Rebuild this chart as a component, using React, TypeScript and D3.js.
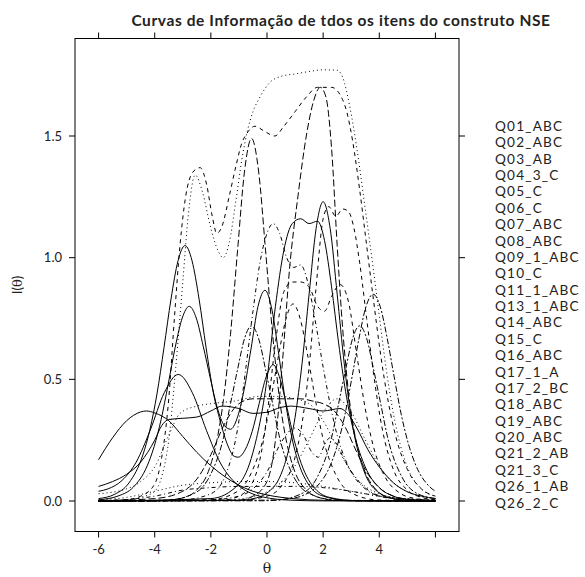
import React from "react";
import * as d3 from "d3";

type Pt = [number, number];

const itemNames = [
  "Q01_ABC", "Q02_ABC", "Q03_AB", "Q04_3_C", "Q05_C", "Q06_C", "Q07_ABC", "Q08_ABC",
  "Q09_1_ABC", "Q10_C", "Q11_1_ABC", "Q13_1_ABC", "Q14_ABC", "Q15_C", "Q16_ABC",
  "Q17_1_A", "Q17_2_BC", "Q18_ABC", "Q19_ABC", "Q20_ABC", "Q21_2_AB", "Q21_3_C",
  "Q26_1_AB", "Q26_2_C",
];

const xTicks = [-6, -4, -2, 0, 2, 4, 6];
const xTickLabels = ["-6", "-4", "-2", "0", "2", "4", ""];
const yTicks = [0, 0.5, 1.0, 1.5];
const yTickLabels = ["0.0", "0.5", "1.0", "1.5"];

const q01: Pt[] = [[-6,0.17],[-5.5,0.26],[-5,0.33],[-4.5,0.366],[-4.3,0.37],[-4,0.362],[-3.5,0.33],[-3,0.265],[-2.5,0.2],[-2,0.145],[-1.5,0.1],[-1,0.065],[-0.5,0.04],[0,0.025],[1,0.009],[2,0.003],[4,0.0004],[6,0]];
const q02: Pt[] = [[-6,0.002],[-5,0.006],[-4.5,0.02],[-4,0.07],[-3.75,0.18],[-3.5,0.42],[-3.3,0.75],[-3.1,1.05],[-2.9,1.25],[-2.65,1.35],[-2.38,1.37],[-2.15,1.3],[-1.95,1.17],[-1.79,1.1],[-1.6,1.13],[-1.35,1.25],[-1.1,1.38],[-0.9,1.47],[-0.72,1.51],[-0.43,1.54],[-0.1,1.52],[0.28,1.5],[0.6,1.54],[1,1.6],[1.4,1.66],[1.8,1.7],[2.3,1.7],[2.6,1.67],[2.84,1.6],[3.05,1.48],[3.3,1.28],[3.55,1.05],[3.8,0.82],[4.05,0.6],[4.3,0.42],[4.6,0.26],[5,0.13],[5.5,0.05],[6,0.02]];
const q03: Pt[] = [[-6,0.001],[-5,0.005],[-4.5,0.015],[-4,0.04],[-3.75,0.1],[-3.5,0.25],[-3.25,0.55],[-3,0.9],[-2.8,1.18],[-2.56,1.34],[-2.3,1.27],[-2,1.12],[-1.75,1.03],[-1.56,1.0],[-1.35,1.06],[-1.1,1.24],[-0.9,1.4],[-0.7,1.52],[-0.5,1.6],[-0.25,1.66],[0.1,1.72],[0.5,1.745],[1,1.755],[1.5,1.765],[2,1.772],[2.5,1.77],[2.7,1.74],[2.95,1.62],[3.2,1.45],[3.5,1.2],[3.78,0.96],[4,0.76],[4.25,0.54],[4.5,0.36],[4.75,0.23],[5,0.14],[5.5,0.05],[6,0.02]];
const q04: Pt[] = [[-6,0],[-3,0.005],[-2,0.03],[-1.5,0.1],[-1,0.33],[-0.75,0.55],[-0.5,0.78],[-0.25,0.98],[0,1.1],[0.22,1.14],[0.45,1.1],[0.7,1.0],[0.95,0.96],[1.2,0.97],[1.45,0.9],[1.75,0.72],[2,0.55],[2.5,0.27],[3,0.12],[3.5,0.05],[4,0.02],[5,0.004],[6,0.001]];
const q05: Pt[] = [[-6,0],[-4.55,0.0005],[-3.55,0.003],[-3.05,0.011],[-2.55,0.04],[-2.05,0.134],[-1.8,0.241],[-1.55,0.417],[-1.3,0.685],[-1.05,1.028],[-0.8,1.356],[-0.55,1.49],[-0.3,1.356],[-0.05,1.028],[0.2,0.685],[0.45,0.417],[0.7,0.241],[0.95,0.134],[1.45,0.04],[1.95,0.011],[2.45,0.003],[3.5,0.0004],[6,0]];
const q06: Pt[] = [[-6,0],[-0.22,0.001],[0.78,0.0085],[1.28,0.023],[1.78,0.06],[2.28,0.153],[2.53,0.238],[2.78,0.357],[3.03,0.51],[3.28,0.67],[3.53,0.8],[3.78,0.85],[4.03,0.8],[4.28,0.67],[4.53,0.51],[4.78,0.357],[5.03,0.238],[5.28,0.153],[5.78,0.06],[6,0.04]];
const q07: Pt[] = [[-6,0.06],[-5.5,0.08],[-5,0.11],[-4.5,0.16],[-4,0.25],[-3.75,0.31],[-3.5,0.335],[-3,0.34],[-2.5,0.345],[-2,0.37],[-1.6,0.39],[-1,0.38],[-0.5,0.36],[0,0.365],[0.5,0.385],[0.85,0.39],[1.5,0.38],[2,0.37],[2.6,0.38],[2.9,0.355],[3.2,0.3],[3.6,0.21],[4,0.14],[4.5,0.075],[5,0.038],[5.5,0.02],[6,0.01]];
const q08: Pt[] = [[-6,0.01],[-5.42,0.028],[-4.92,0.074],[-4.42,0.19],[-4.17,0.294],[-3.92,0.44],[-3.67,0.63],[-3.42,0.83],[-3.17,0.987],[-2.92,1.05],[-2.67,0.987],[-2.42,0.83],[-2.17,0.63],[-1.92,0.45],[-1.67,0.33],[-1.42,0.235],[-1.17,0.184],[-1.03,0.18],[-0.78,0.21],[-0.53,0.285],[-0.28,0.4],[-0.03,0.51],[0.22,0.56],[0.47,0.5],[0.72,0.38],[0.97,0.25],[1.22,0.154],[1.47,0.089],[1.72,0.05],[2.22,0.015],[3.22,0.001],[6,0]];
const q09: Pt[] = [[-6,0],[-1,0.003],[0,0.02],[0.5,0.06],[1,0.18],[1.25,0.32],[1.5,0.55],[1.75,0.88],[2,1.16],[2.2,1.21],[2.45,1.17],[2.7,1.2],[2.9,1.19],[3.1,1.12],[3.3,0.98],[3.55,0.75],[3.8,0.52],[4.1,0.3],[4.5,0.13],[5,0.045],[5.5,0.015],[6,0.005]];
const q10: Pt[] = [[-6,0.03],[-5,0.05],[-4.5,0.08],[-4,0.14],[-3.5,0.27],[-3.1,0.36],[-2.5,0.39],[-2,0.4],[-1.2,0.41],[-0.25,0.43],[0.5,0.43],[1,0.42],[1.5,0.4],[2,0.33],[2.5,0.22],[3,0.12],[3.5,0.06],[4,0.03],[5,0.008],[6,0.002]];
const q11: Pt[] = [[-6,0],[-2,0.005],[-1,0.02],[-0.5,0.05],[0,0.12],[0.5,0.24],[1,0.3],[1.3,0.27],[1.6,0.2],[1.83,0.18],[2.05,0.23],[2.24,0.26],[2.45,0.24],[2.8,0.16],[3.2,0.09],[3.6,0.045],[4,0.022],[5,0.005],[6,0.001]];
const q13: Pt[] = [[-6,0],[-1,0.004],[-0.5,0.02],[0,0.08],[0.3,0.25],[0.57,0.6],[0.8,0.95],[1.1,1.25],[1.4,1.5],[1.65,1.64],[1.9,1.7],[2.1,1.66],[2.3,1.45],[2.5,1.05],[2.65,0.78],[2.9,0.45],[3.15,0.26],[3.4,0.15],[3.9,0.045],[4.4,0.013],[5,0.003],[6,0]];
const q14: Pt[] = [[-6,0],[-3.55,0.004],[-2.55,0.034],[-2.05,0.1],[-1.55,0.26],[-1.3,0.4],[-1.05,0.54],[-0.8,0.668],[-0.55,0.72],[-0.3,0.668],[-0.05,0.54],[0.2,0.4],[0.45,0.26],[0.95,0.1],[1.45,0.034],[2.45,0.004],[6,0]];
const q15: Pt[] = [[-6,0],[-1,0.0025],[-0.5,0.0095],[0,0.033],[0.5,0.11],[0.75,0.2],[1,0.344],[1.25,0.566],[1.5,0.85],[1.75,1.12],[2,1.23],[2.25,1.12],[2.5,0.85],[2.75,0.566],[3,0.344],[3.25,0.2],[3.5,0.11],[4,0.033],[4.5,0.0095],[5,0.0025],[6,0]];
const q16: Pt[] = [[-6,0],[-2,0.01],[-1,0.07],[-0.5,0.2],[0,0.5],[0.3,0.8],[0.6,1.03],[0.9,1.14],[1.2,1.16],[1.5,1.14],[1.8,1.15],[2.05,1.07],[2.3,0.88],[2.55,0.65],[2.8,0.45],[3.1,0.28],[3.5,0.14],[4,0.055],[4.5,0.02],[5,0.007],[6,0.001]];
const q17_1: Pt[] = [[-6,0],[-2.07,0.0044],[-1.07,0.038],[-0.57,0.113],[-0.07,0.29],[0.18,0.445],[0.43,0.61],[0.68,0.75],[0.93,0.81],[1.18,0.75],[1.43,0.61],[1.68,0.445],[1.93,0.29],[2.43,0.113],[2.93,0.038],[3.93,0.0044],[6,0]];
const q17_2: Pt[] = [[-6,0],[-1.5,0.004],[-0.5,0.018],[0,0.038],[0.5,0.076],[1,0.145],[1.5,0.252],[2,0.365],[2.5,0.42],[3,0.365],[3.5,0.252],[4,0.145],[4.5,0.076],[5,0.038],[5.5,0.018],[6,0.01]];
const q18: Pt[] = [[-6,0.002],[-5,0.006],[-4,0.02],[-3,0.045],[-2,0.055],[-1,0.06],[0,0.06],[1,0.06],[2,0.055],[3,0.04],[4,0.02],[5,0.008],[6,0.003]];
const q19: Pt[] = [[-6,0.001],[-4,0.01],[-3,0.04],[-2.5,0.09],[-2,0.19],[-1.5,0.32],[-1,0.4],[-0.5,0.42],[0.5,0.42],[1.2,0.42],[1.65,0.41],[2,0.4],[2.4,0.37],[2.8,0.3],[3.2,0.2],[3.6,0.11],[4,0.055],[4.5,0.02],[5,0.008],[6,0.002]];
const q20: Pt[] = [[-6,0],[0.3,0.004],[1.3,0.034],[1.8,0.1],[2.3,0.26],[2.55,0.4],[2.8,0.54],[3.05,0.668],[3.3,0.72],[3.55,0.668],[3.8,0.54],[4.05,0.4],[4.3,0.26],[4.8,0.1],[5.3,0.034],[6,0.01]];
const q21_2: Pt[] = [[-6,0.005],[-5.27,0.022],[-4.77,0.056],[-4.27,0.144],[-4.02,0.224],[-3.77,0.336],[-3.52,0.48],[-3.27,0.632],[-3.02,0.752],[-2.77,0.8],[-2.52,0.752],[-2.27,0.635],[-2.02,0.505],[-1.77,0.383],[-1.52,0.31],[-1.3,0.295],[-1.07,0.338],[-0.82,0.455],[-0.57,0.625],[-0.32,0.8],[-0.07,0.866],[0.18,0.784],[0.43,0.593],[0.68,0.391],[0.93,0.238],[1.18,0.138],[1.43,0.077],[1.93,0.023],[2.93,0.002],[6,0]];
const q21_3: Pt[] = [[-6,0.04],[-5.66,0.05],[-5.16,0.085],[-4.66,0.16],[-4.16,0.291],[-3.66,0.445],[-3.16,0.52],[-2.66,0.445],[-2.16,0.291],[-1.66,0.156],[-1.16,0.078],[-0.66,0.037],[-0.16,0.017],[0.84,0.0034],[2,0.0005],[6,0]];
const q26_1: Pt[] = [[-6,0],[-1.5,0.005],[-1,0.02],[-0.5,0.08],[-0.2,0.2],[0,0.35],[0.3,0.65],[0.6,0.86],[0.9,0.9],[1.2,0.9],[1.5,0.88],[1.8,0.8],[2.05,0.78],[2.3,0.84],[2.6,0.89],[2.9,0.82],[3.2,0.6],[3.5,0.38],[3.8,0.22],[4.2,0.1],[4.7,0.035],[5.2,0.012],[6,0.002]];
const q26_2: Pt[] = [[-6,0.005],[-5,0.015],[-4,0.04],[-3,0.065],[-2,0.075],[-1,0.08],[0,0.08],[1,0.075],[2,0.06],[3,0.04],[4,0.02],[5,0.01],[6,0.004]];

const itemCurves: Pt[][] = [
  q01, q02, q03, q04, q05, q06, q07, q08, q09, q10, q11, q13, q14, q15, q16,
  q17_1, q17_2, q18, q19, q20, q21_2, q21_3, q26_1, q26_2,
];

// R lty cycle used by lattice (1..7, 7 wraps to solid)
const dashCycle = ["", "4,4", "1,3", "1,3,4,3", "7,3", "2,2,6,2", ""];

const W = 585;
const H = 577;
const left = 75, right = 459, top = 38.5, bottom = 531.5;
const FONT = "Lato, 'Open Sans', sans-serif";

export default function App() {
  const x = d3.scaleLinear().domain([-6.84, 6.84]).range([left, right]);
  const y = d3.scaleLinear().domain([-0.1253, 1.9007]).range([bottom, top]);
  const line = d3
    .line<Pt>()
    .x((d) => x(d[0]))
    .y((d) => y(d[1]))
    .curve(d3.curveMonotoneX);

  const legendX = 495;
  const legendY0 = 131;
  const legendStep = 16.37;

  return (
    <svg
      width={W}
      height={H}
      style={{ position: "absolute", left: 0, top: 0, background: "#fff" }}
      fontFamily={FONT}
    >
      <rect x={0} y={0} width={W} height={H} fill="#fff" />
      <text
        x={341}
        y={26}
        textAnchor="middle"
        fontSize={15.5}
        fontWeight="bold"
        letterSpacing={0.6}
        fill="#222"
      >
        Curvas de Informação de tdos os itens do construto NSE
      </text>
      <defs>
        <clipPath id="panel">
          <rect x={left} y={top} width={right - left} height={bottom - top} />
        </clipPath>
      </defs>
      <g clipPath="url(#panel)">
        {itemCurves.map((c, i) => (
          <path
            key={itemNames[i]}
            d={line(c) || ""}
            fill="none"
            stroke="#000"
            strokeWidth={1}
            strokeDasharray={dashCycle[i % 7] || undefined}
          />
        ))}
      </g>
      <rect
        x={left}
        y={top}
        width={right - left}
        height={bottom - top}
        fill="none"
        stroke="#000"
        strokeWidth={1}
      />
      {xTicks.map((t, i) => (
        <g key={"xt" + t}>
          <line x1={x(t)} x2={x(t)} y1={bottom} y2={bottom + 6} stroke="#000" />
          <line x1={x(t)} x2={x(t)} y1={top} y2={top - 6} stroke="#000" />
          <text x={x(t)} y={554} textAnchor="middle" fontSize={13} fill="#222">
            {xTickLabels[i]}
          </text>
        </g>
      ))}
      {yTicks.map((t, i) => (
        <g key={"yt" + t}>
          <line x1={left - 6} x2={left} y1={y(t)} y2={y(t)} stroke="#000" />
          <line x1={right} x2={right + 6} y1={y(t)} y2={y(t)} stroke="#000" />
          <text x={62} y={y(t) + 4.5} textAnchor="end" fontSize={13} fill="#222">
            {yTickLabels[i]}
          </text>
        </g>
      ))}
      <text x={267} y={573} textAnchor="middle" fontSize={14} fontFamily="'DejaVu Serif', serif" fill="#222">
        θ
      </text>
      <text
        transform={`translate(22, ${(top + bottom) / 2}) rotate(-90)`}
        textAnchor="middle"
        fontSize={13}
        fill="#222"
      >
        I(<tspan fontFamily="'DejaVu Serif', serif">θ</tspan>)
      </text>
      {itemNames.map((n, i) => (
        <text
          key={"lg" + n}
          x={legendX}
          y={legendY0 + i * legendStep}
          fontSize={13.6}
          letterSpacing={1.2}
          fill="#222"
        >
          {n}
        </text>
      ))}
    </svg>
  );
}
